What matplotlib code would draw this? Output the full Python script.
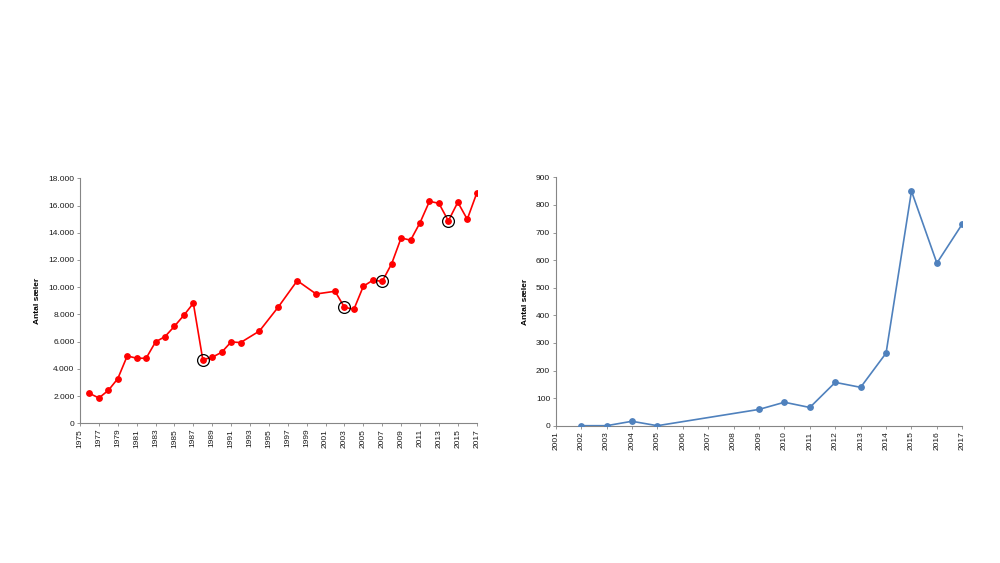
import numpy as np
import matplotlib.pyplot as plt
from matplotlib.ticker import FuncFormatter

plt.rcParams['font.family'] = ['Liberation Sans', 'DejaVu Sans']

# Left chart: number of seals 1976-2017
years_a = [1976, 1977, 1978, 1979, 1980, 1981, 1982, 1983, 1984, 1985, 1986, 1987,
           1988, 1989, 1990, 1991, 1992, 1994, 1996, 1998, 2000, 2002, 2003, 2004,
           2005, 2006, 2007, 2008, 2009, 2010, 2011, 2012, 2013, 2014, 2015, 2016, 2017]
seals_a = [2200, 1860, 2420, 3280, 4950, 4780, 4780, 5980, 6370, 7130, 7940, 8820,
           4680, 4850, 5220, 5980, 5930, 6780, 8550, 10480, 9500, 9700, 8520, 8380,
           10070, 10510, 10430, 11730, 13620, 13450, 14740, 16310, 16160, 14870, 16240, 14990, 16900]
circled_years = [1988, 2003, 2007, 2014]

# Right chart: number of seals 2002-2017
years_b = [2002, 2003, 2004, 2005, 2009, 2010, 2011, 2012, 2013, 2014, 2015, 2016, 2017]
seals_b = [0, 0, 16, 0, 59, 85, 66, 157, 139, 263, 850, 589, 731]

axis_col = '#868686'
W, H = 1000, 563
fig = plt.figure(figsize=(W / 100, H / 100), dpi=100)


def style(ax):
    for s in ['top', 'right']:
        ax.spines[s].set_visible(False)
    for s in ['left', 'bottom']:
        ax.spines[s].set_color(axis_col)
        ax.spines[s].set_linewidth(0.8)
    ax.tick_params(axis='both', colors=axis_col, labelcolor='#1a1a1a',
                   labelsize=6, length=2.5, width=0.6, direction='out', pad=1.5)
    ax.tick_params(axis='x', labelrotation=90)
    ax.set_ylabel('Antal sæler', fontsize=6, fontweight='bold', labelpad=5)


# left
ax1 = fig.add_axes([80 / W, 1 - 423.3 / H, (476.7 - 80) / W, (423.3 - 178.3) / H])
ax1.plot(years_a, seals_a, color='#ff0000', lw=1.2, marker='o', ms=3.9, zorder=3)
circ_vals = [seals_a[years_a.index(y)] for y in circled_years]
ax1.plot(circled_years, circ_vals, ls='none', marker='o', ms=8.5, mfc='none',
         mec='black', mew=0.9, zorder=4)
ax1.set_xlim(1975, 2017)
ax1.set_ylim(0, 18000)
ax1.set_xticks(np.arange(1975, 2018, 2))
ax1.set_yticks(np.arange(0, 18001, 2000))
ax1.yaxis.set_major_formatter(FuncFormatter(lambda v, p: f'{int(v):,}'.replace(',', '.')))
style(ax1)

# right
ax2 = fig.add_axes([555.7 / W, 1 - 425.7 / H, (962.3 - 555.7) / W, (425.7 - 177.3) / H])
ax2.plot(years_b, seals_b, color='#4f81bd', lw=1.2, marker='o', ms=3.9, zorder=3)
ax2.set_xlim(2001, 2017)
ax2.set_ylim(0, 900)
ax2.set_xticks(np.arange(2001, 2018, 1))
ax2.set_yticks(np.arange(0, 901, 100))
style(ax2)

fig.savefig('out.png', dpi=100)
